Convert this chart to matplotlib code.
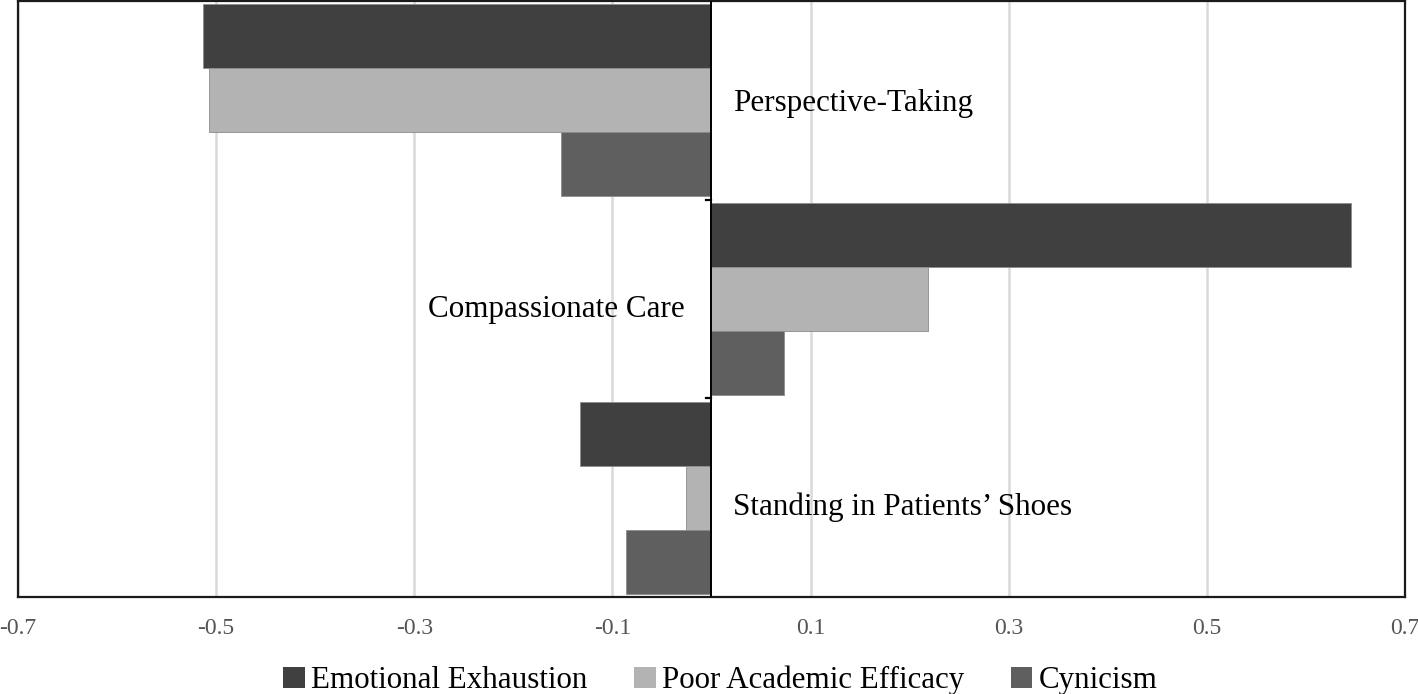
import matplotlib.pyplot as plt
from matplotlib.patches import Patch

# data
categories = ['Perspective-Taking', 'Compassionate Care',
              "Standing in Patients\u2019 Shoes"]
series = ['Emotional Exhaustion', 'Poor Academic Efficacy', 'Cynicism']
emotional_exhaustion = [-0.513, 0.646, -0.133]
poor_academic_efficacy = [-0.507, 0.219, -0.026]
cynicism = [-0.152, 0.073, -0.086]
xticks = [-0.7, -0.5, -0.3, -0.1, 0.1, 0.3, 0.5, 0.7]

colors = ['#404040', '#b3b3b3', '#5f5f5f']
values = [emotional_exhaustion, poor_academic_efficacy, cynicism]

plt.rcParams['font.family'] = ['Liberation Serif', 'DejaVu Serif']

fig = plt.figure(figsize=(14.18, 6.94), dpi=100)
ax = fig.add_axes([0.0127, 0.1398, 0.9781, 0.8588])

bar_h = 0.322
for k, (vals, col) in enumerate(zip(values, colors)):
    ys = [i + (k - 1) * bar_h for i in range(len(categories))]
    ax.barh(ys, vals, height=bar_h, color=col, edgecolor='#8c8c8c',
            linewidth=0.6, zorder=3)

ax.set_xlim(-0.7, 0.7)
ax.set_ylim(2.5, -0.5)

ax.set_xticks(xticks)
ax.set_xticklabels(['%.1f' % t for t in xticks], fontsize=17,
                   color='#555555')
ax.tick_params(axis='x', length=0, pad=15)
ax.set_yticks([])
ax.grid(axis='x', color='#d9d9d9', linewidth=1.8, zorder=0)

for s in ax.spines.values():
    s.set_color('#1a1a1a')
    s.set_linewidth(1.6)

# category axis at zero with small ticks between categories
ax.axvline(0, color='black', linewidth=1.4, zorder=4)
for b in (0.5, 1.5):
    ax.plot([-0.006, 0], [b, b], color='black', linewidth=1.6, zorder=4)

label_x = [0.022, -0.027, 0.022]
label_dy = [0.015, 0.055, 0.05]
for i, name in enumerate(categories):
    val = emotional_exhaustion[i]
    ha = 'left' if val < 0 else 'right'
    ax.text(label_x[i], i + label_dy[i], name, ha=ha, va='center',
            fontsize=22.4, color='black', zorder=5)

handles = [Patch(facecolor=c, edgecolor='none') for c in colors]
fig.legend(handles, series, loc='lower center', ncol=3, frameon=False,
           fontsize=22.3, bbox_to_anchor=(0.508, -0.042), handlelength=0.7,
           handleheight=0.7, handletextpad=0.2, columnspacing=1.5)

fig.savefig('out.png', dpi=100)
